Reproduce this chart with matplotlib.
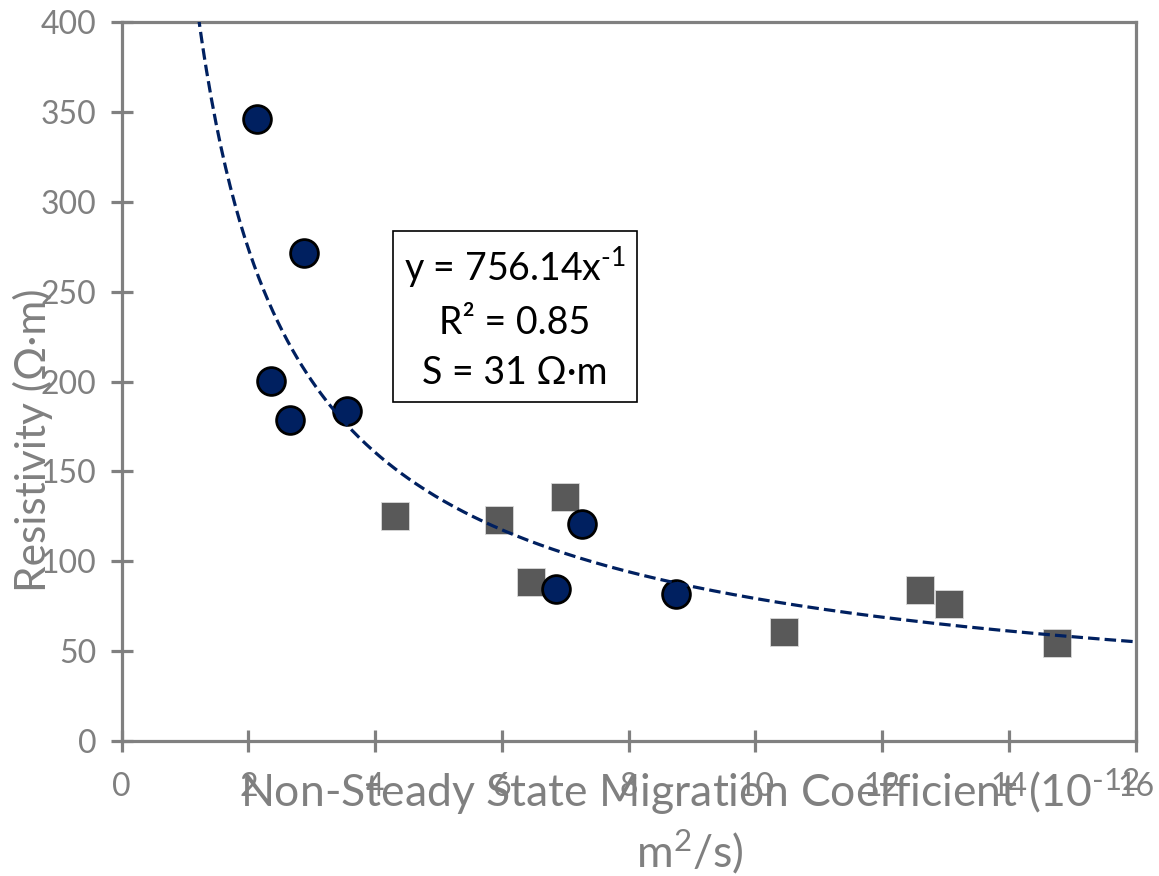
import matplotlib
matplotlib.use("Agg")
import matplotlib.pyplot as plt
import numpy as np

plt.rcParams['font.family'] = ['Lato', 'DejaVu Sans']
plt.rcParams['mathtext.fontset'] = 'custom'
plt.rcParams['mathtext.rm'] = 'Lato'
plt.rcParams['mathtext.default'] = 'regular'

# circles (navy)
circ_x = [2.14, 2.88, 2.36, 2.65, 3.56, 7.26, 6.85, 8.74]
circ_y = [346.4, 271.5, 200.3, 178.6, 183.4, 120.7, 84.4, 81.8]

# squares (grey)
sq_x = [4.31, 5.96, 6.46, 7.00, 10.45, 12.60, 13.06, 14.76]
sq_y = [125.0, 122.9, 88.5, 135.9, 60.6, 84.2, 76.2, 54.5]

# dashed power trendline as drawn in the picture: y = a * x^-b
trend_a = 467.0
trend_b = 0.77

x_ticks = [0, 2, 4, 6, 8, 10, 12, 14, 16]
y_ticks = [0, 50, 100, 150, 200, 250, 300, 350, 400]

navy = '#002060'
grey = '#808080'

fig = plt.figure(figsize=(11.59, 8.76), dpi=100)
ax = fig.add_axes([121.7 / 1159, 1 - 741 / 876, (1135.7 - 121.7) / 1159, (741 - 22.3) / 876])

ax.scatter(sq_x, sq_y, marker='s', s=20**2, c='#595959', edgecolors='#d9d9d9',
           linewidths=0.6, zorder=3)
ax.scatter(circ_x, circ_y, marker='o', s=20**2, c=navy, edgecolors='black',
           linewidths=2.0, zorder=4)

xx = np.linspace(1.0, 16, 400)
ax.plot(xx, trend_a * xx ** (-trend_b), color=navy, lw=2.3, ls=(0, (3.6, 1.6)),
        zorder=5)

ax.set_xlim(0, 16)
ax.set_ylim(0, 400)
ax.set_xticks(x_ticks)
ax.set_yticks(y_ticks)

for sp in ax.spines.values():
    sp.set_color(grey)
    sp.set_linewidth(2.3)
ax.tick_params(direction='inout', length=16.5, width=2.3, color=grey,
               labelcolor=grey, labelsize=23)
ax.tick_params(axis='y', pad=10)
ax.tick_params(axis='x', pad=14)

fig.text(33 / 1159, 1 - 440 / 876, 'Resistivity (Ω·m)', rotation=90,
         ha='center', va='center', fontsize=30.5, color=grey)
fig.text(690 / 1159, 1 - 821 / 876,
         'Non-Steady State Migration Coefficient (10$^{\\text{-12}}$\nm$^{2}$/s)',
         ha='center', va='center', multialignment='center', fontsize=32,
         color=grey, linespacing=1.25)

# text box centred at pixel (515, 317) of the figure
ax.text((515 - 121.7) / (1135.7 - 121.7), (741 - 318) / (741 - 22.3),
        'y = 756.14x$^{\\text{-1}}$\nR² = 0.85\nS = 31 Ω·m',
        transform=ax.transAxes, ha='center', va='center', multialignment='center',
        fontsize=27, color='black', linespacing=1.5,
        bbox=dict(boxstyle='square,pad=0.3', fc='white', ec='black', lw=1.2),
        zorder=6)

fig.savefig('out.png', dpi=100)
